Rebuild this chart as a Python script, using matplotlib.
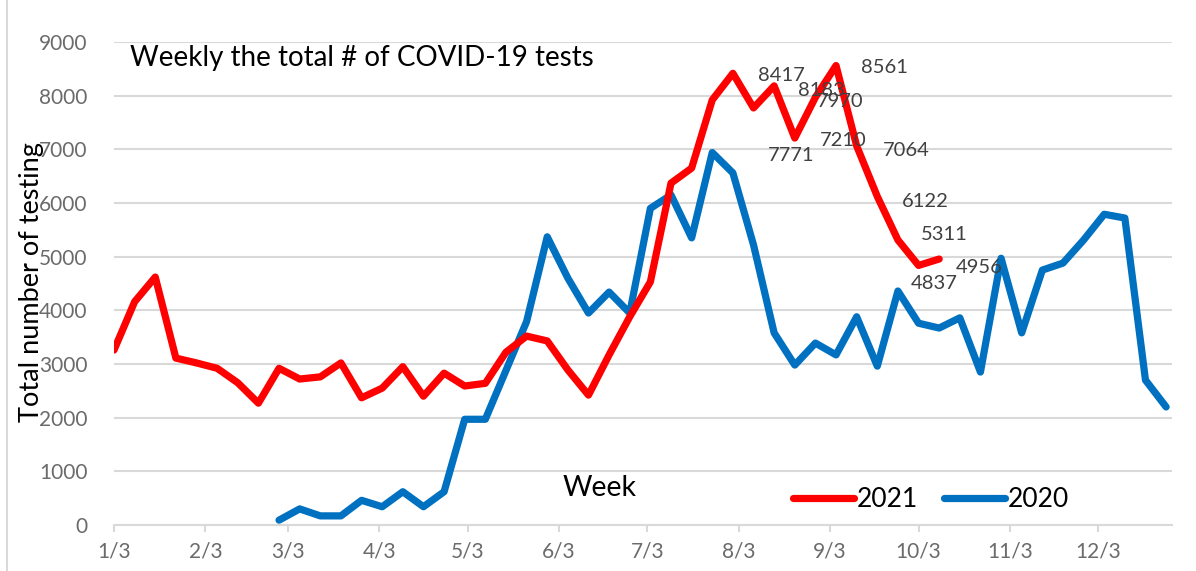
import pandas as pd
import matplotlib
matplotlib.use("Agg")
import matplotlib.pyplot as plt
from matplotlib.lines import Line2D

# weekly totals, 2021 series starts Sun Jan 3, 2020 series plotted from Feb 28
start_2021 = "2021-01-03"
tests_2021 = [3260, 4160, 4620, 3110, 3020, 2920, 2650, 2270, 2920, 2720,
              2760, 3020, 2370, 2550, 2950, 2400, 2830, 2590, 2640, 3220,
              3520, 3430, 2890, 2420, 3170, 3880, 4530, 6370, 6650, 7920,
              8417, 7771, 8183, 7210, 7970, 8561, 7064, 6122, 5311, 4837, 4956]

start_2020 = "2021-02-28"
tests_2020 = [90, 300, 170, 170, 460, 340, 620, 340, 620, 1970,
              1970, 2880, 3790, 5370, 4600, 3950, 4340, 3950, 5900, 6150,
              5350, 6940, 6560, 5220, 3580, 2980, 3390, 3170, 3880, 2960,
              4360, 3760, 3670, 3860, 2850, 4970, 3580, 4750, 4880, 5310,
              5790, 5720, 2700, 2200]

# which 2021 points carry a value label, with label offsets (pixels, up = +)
labelled = list(range(30, 41))
label_offsets = [(25, -2), (14, -48), (24, -5), (25, -2), (1, -4), (25, -2),
                 (26, -5), (25, -5), (23, 5), (-8, -18), (17, -8)]

month_ticks = [f"2021-{m:02d}-03" for m in range(1, 13)]
tick_labels = [f"{m}/3" for m in range(1, 13)]

font = "Lato"
grey = "#6b6b6b"

dates_2021 = pd.date_range(start_2021, periods=len(tests_2021), freq="7D")
dates_2020 = pd.date_range(start_2020, periods=len(tests_2020), freq="7D")

fig = plt.figure(figsize=(11.96, 5.71), dpi=100)
ax = fig.add_axes([114 / 1196, 1 - 525 / 571, (1172 - 114) / 1196, (525 - 42) / 571])

ax.plot(dates_2021, tests_2021, color="#ff0000", lw=5.2, solid_joinstyle="round",
        solid_capstyle="round", label="2021", zorder=3)
ax.plot(dates_2020, tests_2020, color="#0070c0", lw=5.2, solid_joinstyle="round",
        solid_capstyle="round", label="2020", zorder=2)

for i, (dx, dy) in zip(labelled, label_offsets):
    ax.annotate(str(tests_2021[i]), (dates_2021[i], tests_2021[i]),
                xytext=(dx, dy), textcoords="offset pixels", ha="left", va="center",
                fontsize=14.5, color="#404040", family=font, zorder=4)

ax.set_ylim(0, 9000)
ax.set_yticks(range(0, 9001, 1000))
ax.set_xlim(pd.Timestamp("2021-01-03"), pd.Timestamp("2021-12-28"))
ax.set_xticks([pd.Timestamp(d) for d in month_ticks])
ax.set_xticklabels(tick_labels)

ax.grid(axis="y", color="#d9d9d9", lw=1.5, zorder=0)
for s in ["top", "right", "left"]:
    ax.spines[s].set_visible(False)
ax.spines["bottom"].set_color("#d9d9d9")
ax.spines["bottom"].set_linewidth(1.5)
ax.tick_params(axis="y", length=0, pad=19, labelsize=15, labelcolor=grey)
ax.tick_params(axis="x", length=5, width=1.5, color="#d9d9d9", pad=7,
               labelsize=15, labelcolor=grey)
for lab in ax.get_xticklabels() + ax.get_yticklabels():
    lab.set_family(font)

ax.text(0.015, 0.967, "Weekly the total # of COVID-19 tests", transform=ax.transAxes,
        ha="left", va="center", fontsize=20, family=font, color="black")
ax.text(0.459, 0.077, "Week", transform=ax.transAxes, ha="center", va="center",
        fontsize=20.5, family=font, color="black")
fig.text(32 / 1196, 1 - 282 / 571, "Total number of testing", rotation=90,
         ha="center", va="center", fontsize=19.5, family=font, color="black")

leg = ax.legend(loc="center", bbox_to_anchor=(0.772, 0.052), ncol=2, frameon=False,
                handlelength=2.3, handletextpad=0.1, columnspacing=1.0,
                prop={"family": font, "size": 19})

# chart border on the left edge
fig.add_artist(Line2D([7 / 1196, 7 / 1196], [0, 1], color="#d9d9d9", lw=1.5))

fig.savefig("out.png", dpi=100)
